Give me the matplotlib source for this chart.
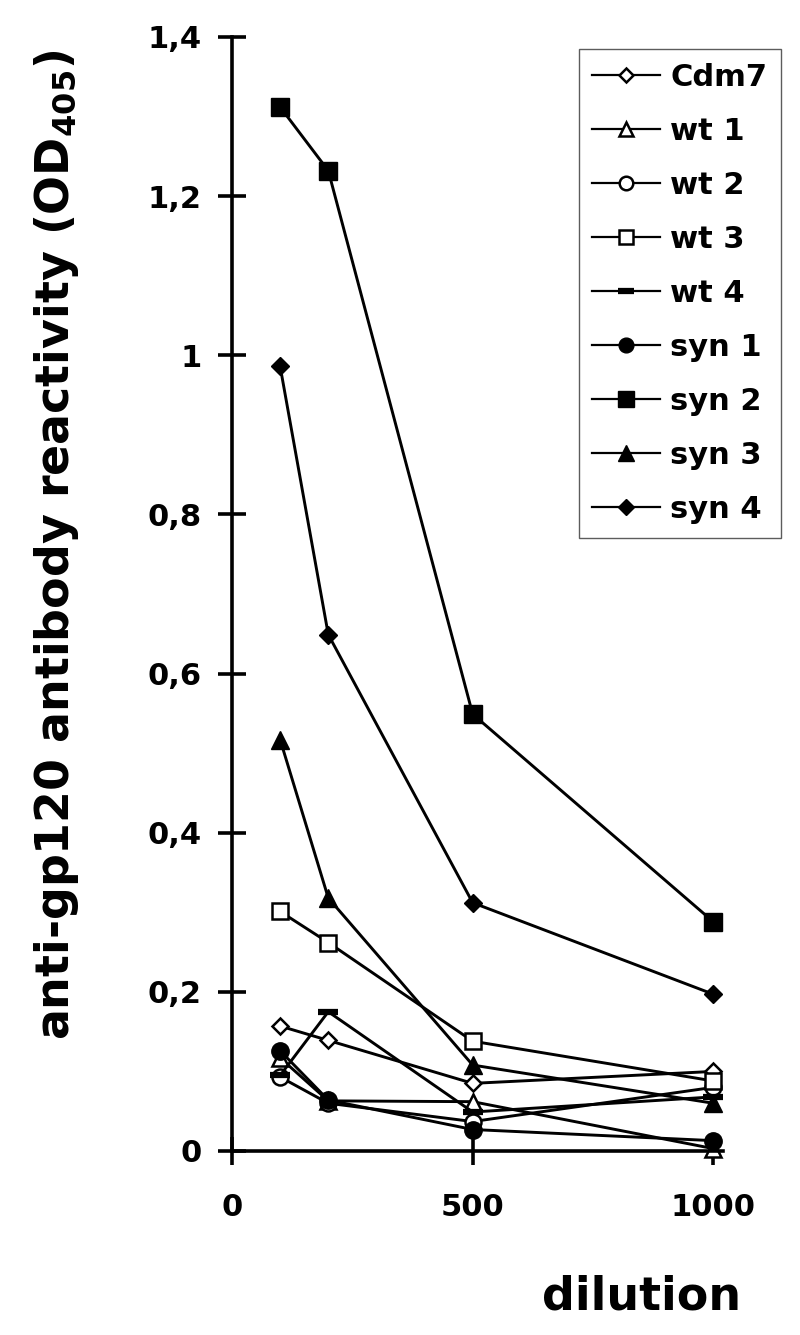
import matplotlib
matplotlib.use("Agg")
import matplotlib.pyplot as plt
from matplotlib.ticker import FixedLocator, FixedFormatter

# ---- data ----
dilution = [100, 200, 500, 1000]
series_names = ["Cdm7", "wt 1", "wt 2", "wt 3", "wt 4", "syn 1", "syn 2", "syn 3", "syn 4"]
cdm7 = [0.157, 0.139, 0.085, 0.100]
wt1 = [0.117, 0.063, 0.062, 0.003]
wt2 = [0.093, 0.060, 0.037, 0.080]
wt3 = [0.301, 0.262, 0.138, 0.088]
wt4 = [0.095, 0.175, 0.049, 0.068]
syn1 = [0.126, 0.064, 0.027, 0.013]
syn2 = [1.312, 1.232, 0.549, 0.288]
syn3 = [0.517, 0.318, 0.108, 0.060]
syn4 = [0.986, 0.649, 0.312, 0.197]
yticks = [0, 0.2, 0.4, 0.6, 0.8, 1.0, 1.2, 1.4]
ytick_labels = ["0", "0,2", "0,4", "0,6", "0,8", "1", "1,2", "1,4"]
xticks = [0, 500, 1000]
xtick_labels = ["0", "500", "1000"]

plt.rcParams['font.family'] = ['DejaVu Sans']
plt.rcParams['font.weight'] = 'bold'
plt.rcParams['mathtext.fontset'] = 'dejavusans'
plt.rcParams['mathtext.default'] = 'bf'

fig = plt.figure(figsize=(8.0, 13.35), dpi=100)
ax = fig.add_axes([232/800, 1 - 1151/1335, (723-232)/800, (1151-37)/1335])

values = [cdm7, wt1, wt2, wt3, wt4, syn1, syn2, syn3, syn4]
styles = [
    dict(marker='D', ms=8.5, mfc='white', mew=1.8),
    dict(marker='^', ms=11.5, mfc='white', mew=1.8),
    dict(marker='o', ms=11.5, mfc='white', mew=1.8),
    dict(marker='s', ms=12, mfc='white', mew=1.8),
    dict(marker='_', ms=14, mew=4.5),
    dict(marker='o', ms=12.5, mfc='black', mew=1),
    dict(marker='s', ms=13.5, mfc='black', mew=1),
    dict(marker='^', ms=13, mfc='black', mew=1),
    dict(marker='D', ms=9.2, mfc='black', mew=1),
]
for name, vals, st in zip(series_names, values, styles):
    ax.plot(dilution, vals, color='black', lw=2.1, mec='black', label=name,
            clip_on=False, **st)

ax.set_xlim(0, 1020)
ax.set_ylim(0, 1.4)
for s in ['top', 'right']:
    ax.spines[s].set_visible(False)
for s in ['left', 'bottom']:
    ax.spines[s].set_linewidth(2.6)
ax.yaxis.set_major_locator(FixedLocator(yticks))
ax.yaxis.set_major_formatter(FixedFormatter(ytick_labels))
ax.xaxis.set_major_locator(FixedLocator(xticks))
ax.xaxis.set_major_formatter(FixedFormatter(xtick_labels))
ax.tick_params(axis='both', direction='inout', length=20, width=2.6,
               labelsize=22)
ax.tick_params(axis='y', pad=12)
ax.tick_params(axis='x', pad=20)
for lab in ax.get_xticklabels() + ax.get_yticklabels():
    lab.set_fontweight('bold')

fig.text(57/800, 1 - 545/1335, r"anti-gp120 antibody reactivity (OD$_{405}$)",
         rotation=90, ha='center', va='center', fontsize=33, fontweight='bold')
fig.text(642/800, 1 - 1297/1335, "dilution", ha='center', va='center',
         fontsize=33, fontweight='bold')

leg = ax.legend(loc='upper right', bbox_to_anchor=(781/800, 1 - 49/1335),
                bbox_transform=fig.transFigure, fontsize=22, frameon=True,
                fancybox=False, edgecolor='#333333', handlelength=2.2,
                markerscale=0.85, labelspacing=0.82, borderpad=0.45,
                handletextpad=0.35, borderaxespad=0)
leg.get_frame().set_linewidth(1.0)
for line in leg.get_lines():
    line.set_linewidth(1.6)

fig.savefig("out.png", dpi=100)
